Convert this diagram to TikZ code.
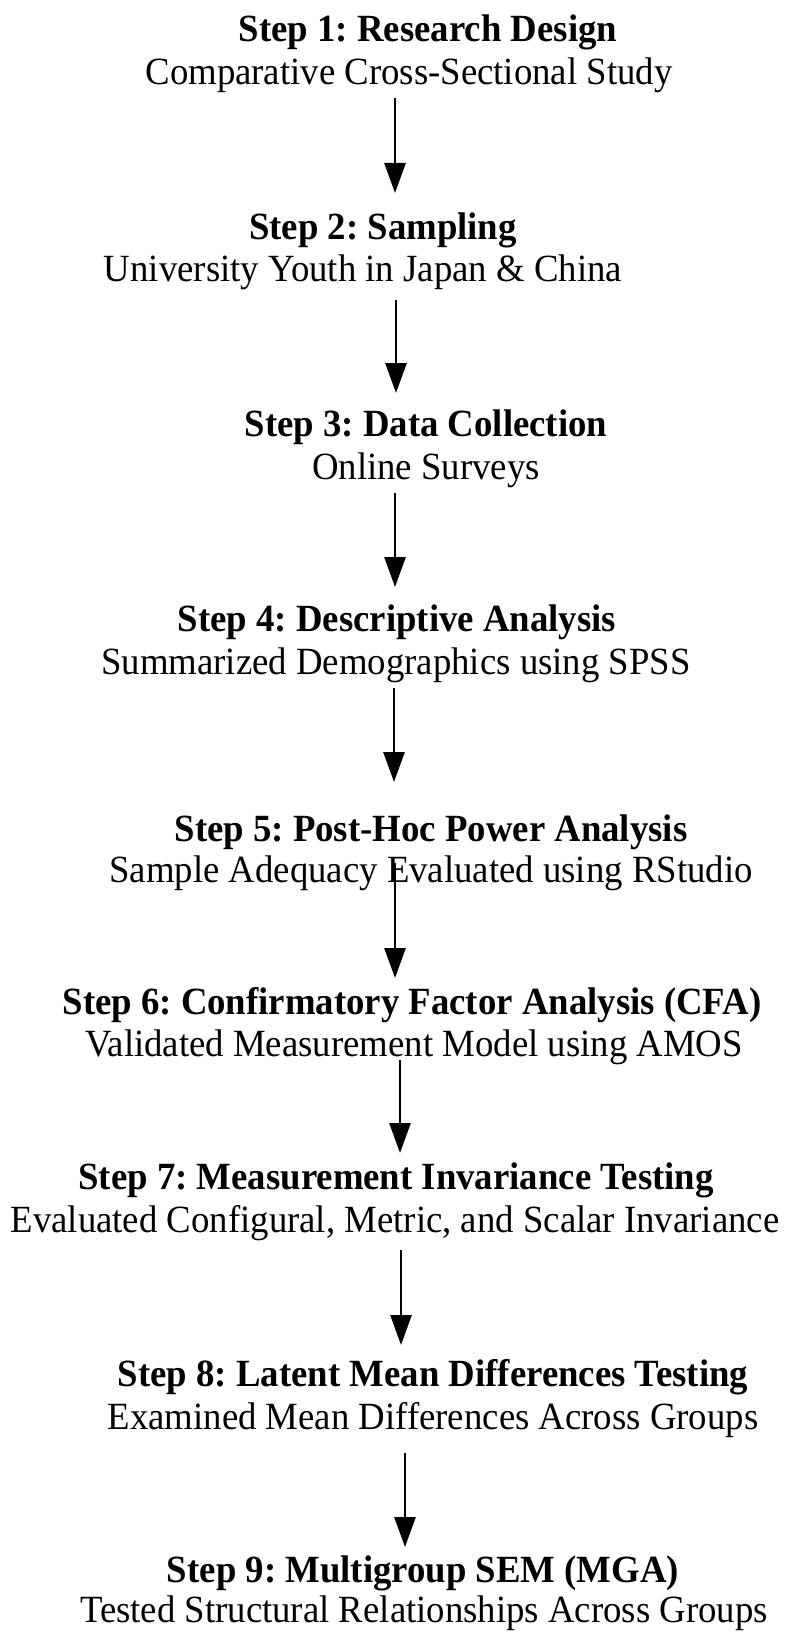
\documentclass[tikz,border=0pt]{standalone}
\usepackage{fontspec}
\setmainfont{Liberation Serif}
\usetikzlibrary{arrows.meta}
\frenchspacing
\newcommand\cnd[1]{\scalebox{0.955}[1]{#1}}
\begin{document}
\begin{tikzpicture}[x=1pt,y=-1pt,
  ttl/.style={font=\fontsize{38.5}{40}\selectfont\bfseries, inner sep=0pt, anchor=center},
  sub/.style={font=\fontsize{38.5}{40}\selectfont, inner sep=0pt, anchor=center},
  arr/.style={line width=2.8pt, -{Triangle[length=30pt,width=21pt]}}]
\useasboundingbox (0,0) rectangle (790,1645);
\node[ttl] (t1) at (428,32) {\cnd{Step 1: Research Design}};
\node[sub] (s1) at (409,75) {\cnd{Comparative Cross-Sectional Study}};
\node[ttl] (t2) at (383,230) {\cnd{Step 2: Sampling}};
\node[sub] (s2) at (363,272) {\cnd{University Youth in Japan \& China}};
\node[ttl] (t3) at (426,427) {\cnd{Step 3: Data Collection}};
\node[sub] (s3) at (426,470) {\cnd{Online Surveys}};
\node[ttl] (t4) at (397,622) {\cnd{Step 4: Descriptive Analysis}};
\node[sub] (s4) at (396,665) {\cnd{Summarized Demographics using SPSS}};
\node[ttl] (t5) at (431,832) {\cnd{Step 5: Post-Hoc Power Analysis}};
\node[sub] (s5) at (431,873) {\cnd{Sample Adequacy Evaluated using RStudio}};
\node[ttl] (t6) at (412,1005) {\cnd{Step 6: Confirmatory Factor Analysis (CFA)}};
\node[sub] (s6) at (414,1047) {\cnd{Validated Measurement Model using AMOS}};
\node[ttl] (t7) at (396,1180) {\cnd{Step 7: Measurement Invariance Testing}};
\node[sub] (s7) at (395,1223) {\cnd{Evaluated Configural, Metric, and Scalar Invariance}};
\node[ttl] (t8) at (433,1377) {\cnd{Step 8: Latent Mean Differences Testing}};
\node[sub] (s8) at (433,1420) {\cnd{Examined Mean Differences Across Groups}};
\node[ttl] (t9) at (423,1573) {\cnd{Step 9: Multigroup SEM (MGA)}};
\node[sub] (s9) at (424,1613) {\cnd{Tested Structural Relationships Across Groups}};
\coordinate (a1) at (395,98);  \coordinate (b1) at (395,193);
\coordinate (a2) at (396,300); \coordinate (b2) at (396,393);
\coordinate (a3) at (395,493); \coordinate (b3) at (395,587);
\coordinate (a4) at (394,688); \coordinate (b4) at (394,782);
\coordinate (a5) at (395,863); \coordinate (b5) at (395,978);
\coordinate (a6) at (400,1060); \coordinate (b6) at (400,1153);
\coordinate (a7) at (401,1250); \coordinate (b7) at (401,1345);
\coordinate (a8) at (405,1453); \coordinate (b8) at (405,1547);
\foreach \i in {1,...,8} \draw[arr] (a\i) -- (b\i);
\end{tikzpicture}
\end{document}
